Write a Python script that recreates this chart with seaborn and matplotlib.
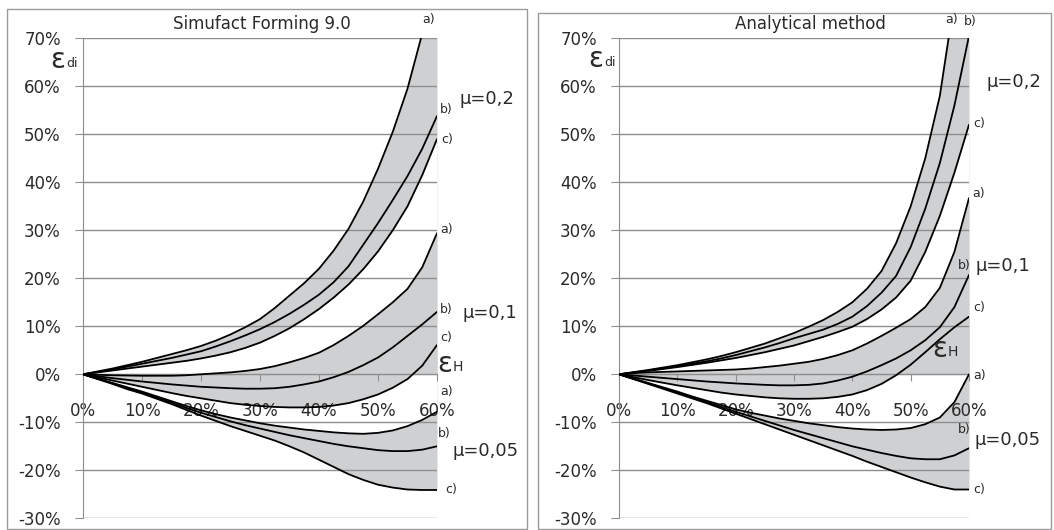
import pandas as pd
import seaborn as sns
import matplotlib.pyplot as plt
from matplotlib.patches import Rectangle

# strain of the blank eps_H (%) and the resulting eps_di (%)
strain = [0, 2.5, 5, 7.5, 10, 12.5, 15, 17.5, 20, 22.5, 25, 27.5, 30,
          32.5, 35, 37.5, 40, 42.5, 45, 47.5, 50, 52.5, 55, 57.5, 60]

# Simufact Forming 9.0
sim_02a = [0, 0.6, 1.2, 1.9, 2.6, 3.4, 4.2, 5.0, 5.9, 7.0, 8.3, 9.8, 11.5,
           13.8, 16.4, 19.0, 22.0, 25.8, 30.3, 36.0, 42.8, 50.5, 59.5, 71, 88]
sim_02b = [0, 0.5, 1.0, 1.6, 2.2, 2.8, 3.4, 4.1, 4.8, 5.8, 6.9, 8.1, 9.4,
           10.9, 12.6, 14.5, 16.6, 19.2, 22.5, 27.0, 31.5, 36.3, 41.3, 47.0, 53.8]
sim_02c = [0, 0.4, 0.8, 1.2, 1.6, 2.0, 2.4, 2.8, 3.3, 3.9, 4.6, 5.5, 6.6,
           8.0, 9.6, 11.5, 13.6, 16.0, 18.7, 21.9, 25.6, 30, 35, 41.5, 49]
sim_01a = [0, -0.1, -0.2, -0.25, -0.3, -0.3, -0.3, -0.2, 0, 0.2, 0.4, 0.7, 1.1,
           1.7, 2.5, 3.4, 4.5, 6.1, 8.0, 10.1, 12.5, 15.0, 17.8, 22.3, 29.4]
sim_01b = [0, -0.4, -0.8, -1.15, -1.5, -1.8, -2.1, -2.35, -2.6, -2.75, -2.9, -3.0, -3.0,
           -2.9, -2.6, -2.1, -1.5, -0.6, 0.5, 1.9, 3.5, 5.6, 8.0, 10.4, 13]
sim_01c = [0, -0.65, -1.3, -1.95, -2.6, -3.25, -3.9, -4.5, -5.0, -5.5, -6.0, -6.35, -6.6,
           -6.8, -6.9, -6.9, -6.8, -6.5, -6.0, -5.2, -4.2, -2.8, -1.0, 1.8, 6.1]
sim_005a = [0, -0.9, -1.8, -2.7, -3.6, -4.6, -5.6, -6.6, -7.5, -8.3, -9.0, -9.6, -10.2,
            -10.7, -11.1, -11.5, -11.8, -12.1, -12.3, -12.4, -12.2, -11.7, -10.8, -9.5, -7.8]
sim_005b = [0, -0.95, -1.9, -2.85, -3.8, -4.85, -5.9, -7.0, -8.0, -8.9, -9.8, -10.6, -11.3,
            -12.0, -12.7, -13.3, -13.9, -14.5, -15.0, -15.4, -15.8, -16.0, -16.0, -15.7, -15.0]
sim_005c = [0, -1.0, -2.0, -3.1, -4.0, -5.1, -6.2, -7.4, -8.6, -9.7, -10.8, -11.8, -12.8,
            -13.8, -15.0, -16.3, -17.8, -19.3, -20.8, -22.0, -23.0, -23.6, -24.0, -24.1, -24.1]

# Analytical method
ana_02a = [0, 0.45, 0.9, 1.4, 1.9, 2.5, 3.1, 3.8, 4.6, 5.5, 6.4, 7.5, 8.6,
           9.9, 11.3, 13.0, 15.0, 17.8, 21.5, 27.3, 35, 45, 58, 78, 98]
ana_02b = [0, 0.4, 0.8, 1.25, 1.7, 2.2, 2.7, 3.3, 4.0, 4.8, 5.6, 6.5, 7.5,
           8.4, 9.3, 10.5, 12.0, 14.2, 17.0, 20.5, 26.5, 34.5, 44, 56, 70.5]
ana_02c = [0, 0.35, 0.7, 1.1, 1.5, 1.95, 2.4, 2.9, 3.4, 4.0, 4.6, 5.3, 6.0,
           6.9, 7.8, 8.8, 9.9, 11.5, 13.5, 16, 19.5, 25.5, 33, 42, 52]
ana_01a = [0, 0.25, 0.4, 0.5, 0.6, 0.7, 0.8, 0.9, 1.0, 1.2, 1.5, 1.8, 2.2,
           2.6, 3.2, 4.0, 5.0, 6.4, 8.0, 9.7, 11.5, 14.0, 18.0, 25.5, 36.7]
ana_01b = [0, -0.25, -0.5, -0.75, -1.0, -1.25, -1.5, -1.7, -1.9, -2.05, -2.2, -2.3, -2.3,
           -2.2, -1.9, -1.3, -0.5, 0.6, 1.9, 3.3, 5.0, 7.1, 9.8, 14.0, 20.7]
ana_01c = [0, -0.6, -1.2, -1.75, -2.3, -2.8, -3.3, -3.8, -4.2, -4.5, -4.8, -5.0, -5.1,
           -5.1, -5.0, -4.7, -4.2, -3.3, -2.0, -0.2, 2.0, 4.6, 7.3, 9.8, 12]
ana_005a = [0, -0.9, -1.8, -2.7, -3.6, -4.6, -5.5, -6.4, -7.3, -8.0, -8.6, -9.2, -9.7,
            -10.2, -10.6, -11.0, -11.3, -11.5, -11.6, -11.5, -11.2, -10.4, -9.0, -5.8, 0]
ana_005b = [0, -0.95, -1.9, -2.85, -3.8, -4.8, -5.8, -6.8, -7.8, -8.75, -9.7, -10.65, -11.6,
            -12.45, -13.3, -14.15, -15.0, -15.7, -16.4, -17.0, -17.5, -17.7, -17.7, -16.9, -15.4]
ana_005c = [0, -1.0, -2.0, -3.0, -4.0, -5.0, -6.0, -7.1, -8.2, -9.3, -10.4, -11.5, -12.6,
            -13.7, -14.8, -15.9, -17.0, -18.2, -19.3, -20.4, -21.5, -22.5, -23.4, -24.0, -24.0]

panels = {
    'Simufact Forming 9.0': [(sim_02a, sim_02b, sim_02c), (sim_01a, sim_01b, sim_01c),
                             (sim_005a, sim_005b, sim_005c)],
    'Analytical method': [(ana_02a, ana_02b, ana_02c), (ana_01a, ana_01b, ana_01c),
                          (ana_005a, ana_005b, ana_005c)],
}

sns.set_style("white")
plt.rcParams['font.family'] = ['DejaVu Sans']

W, H = 1054, 530
fig = plt.figure(figsize=(W / 100, H / 100), dpi=100)
GRID = '#8e8e8e'
FILL = '#cfd0d2'
TXT = '#2a2a2a'


def ftext(x, y, s, **kw):
    kw.setdefault('color', TXT)
    fig.text(x / W, 1 - y / H, s, **kw)


# outer frames
fig.add_artist(Rectangle((7 / W, 1 - 529 / H), 520 / W, 520 / H, transform=fig.transFigure,
                         fill=False, edgecolor='#9a9a9a', lw=1))
fig.add_artist(Rectangle((538 / W, 1 - 529 / H), 513 / W, 516 / H, transform=fig.transFigure,
                         fill=False, edgecolor='#9a9a9a', lw=1))

lefts = [(83, 354), (619, 350)]
for (title, groups), (x0, w) in zip(panels.items(), lefts):
    ax = fig.add_axes([x0 / W, 1 - 518.3 / H, w / W, 480 / H])
    (a2, b2, c2), (a1, b1, c1), (a05, b05, c05) = groups
    # layered areas down to the zero line, like the original spreadsheet chart
    for curve, col in [(a2, FILL), (c2, 'white'), (c05, FILL), (a05, 'white'),
                       (a1, FILL), (c1, FILL)]:
        ax.fill_between(strain, 0, curve, color=col, lw=0, zorder=0.2)
    rows = []
    for gi, grp in enumerate(groups):
        for ci, curve in enumerate(grp):
            for s, v in zip(strain, curve):
                rows.append({'eH': s, 'edi': v, 'curve': f'{gi}{ci}'})
    df = pd.DataFrame(rows)
    sns.lineplot(data=df, x='eH', y='edi', units='curve', estimator=None, color='black',
                 lw=1.3, ax=ax, legend=False, zorder=3)
    ax.set_xlim(0, 60)
    ax.set_ylim(-30, 70)
    ax.set_yticks(range(-30, 71, 10))
    ax.set_yticklabels([f'{v}%' for v in range(-30, 71, 10)])
    ax.set_xticks(range(0, 61, 10))
    ax.set_xticklabels([f'{v}%' for v in range(0, 61, 10)])
    ax.set_xlabel('')
    ax.set_ylabel('')
    ax.yaxis.grid(True, color=GRID, lw=1)
    ax.xaxis.grid(False)
    ax.set_axisbelow(True)
    ax.patch.set_alpha(0)
    for side in ['top', 'right']:
        ax.spines[side].set_visible(False)
    ax.spines['left'].set_color(GRID)
    ax.spines['bottom'].set_color(GRID)
    ax.spines['bottom'].set_position(('data', 0))
    ax.tick_params(axis='y', length=6, color=GRID, pad=10, labelsize=12, labelcolor=TXT, left=True)
    ax.tick_params(axis='x', length=5, color=GRID, pad=15, labelsize=12, labelcolor=TXT,
                   bottom=True, direction='out')

# titles
ftext(262, 24, 'Simufact Forming 9.0', fontsize=12, ha='center', va='center')
ftext(810, 24, 'Analytical method', fontsize=12, ha='center', va='center')

# axis symbols
for ex, ey, sub in [(50, 68, 'di'), (588, 67, 'di'), (437, 372, 'H'), (932, 357, 'H')]:
    ftext(ex, ey, 'ε', fontsize=20, ha='left', va='baseline')
    ftext(ex + 16, ey - 1, sub, fontsize=10 if sub == 'H' else 9, ha='left', va='baseline')

# curve labels
for x, y, s in [(429, 20, 'a)'), (446, 110, 'b)'), (447, 140, 'c)'), (447, 230, 'a)'),
                (446, 310, 'b)'), (446, 338, 'c)'), (447, 391, 'a)'), (444, 434, 'b)'),
                (451, 490, 'c)'),
                (952, 19, 'a)'), (970, 21, 'b)'), (979, 123, 'c)'), (979, 193, 'a)'),
                (964, 266, 'b)'), (979, 307, 'c)'), (980, 376, 'a)'), (964, 429, 'b)'),
                (979, 490, 'c)')]:
    ftext(x, y, s, fontsize=9, ha='center', va='center')

for x, y, s in [(487, 99, 'μ=0,2'), (490, 313, 'μ=0,1'), (486, 451, 'μ=0,05'),
                (1014, 82, 'μ=0,2'), (1003, 266, 'μ=0,1'), (1008, 440, 'μ=0,05')]:
    ftext(x, y, s, fontsize=13, ha='center', va='center')

fig.savefig('out.png', dpi=100)
